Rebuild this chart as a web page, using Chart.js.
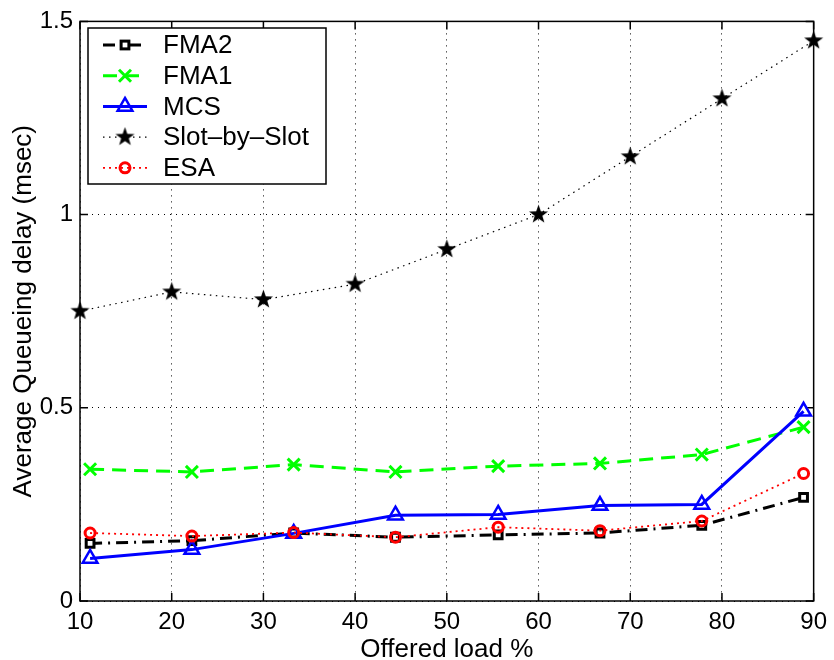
<!DOCTYPE html>
<html>
<head>
<meta charset="utf-8">
<script src="https://cdn.jsdelivr.net/npm/chart.js@4"></script>
<style>
  html, body { margin: 0; padding: 0; background: #fff; }
  #chart { display: block; }
</style>
</head>
<body>
<canvas id="chart" width="834" height="660"></canvas>
<script>
// values
const loadPoints = [11.1, 22.2, 33.3, 44.4, 55.6, 66.7, 77.8, 88.9];
const slotLoad = [10, 20, 30, 40, 50, 60, 70, 80, 90];

const fma2 = [0.149, 0.156, 0.176, 0.165, 0.171, 0.176, 0.196, 0.268];
const fma1 = [0.341, 0.334, 0.353, 0.334, 0.349, 0.356, 0.379, 0.450];
const mcs  = [0.110, 0.133, 0.175, 0.222, 0.224, 0.247, 0.250, 0.491];
const slotBySlot = [0.75, 0.80, 0.78, 0.82, 0.91, 1.00, 1.15, 1.30, 1.45];
const esa  = [0.176, 0.168, 0.177, 0.165, 0.191, 0.182, 0.207, 0.330];

const xTicks = [10, 20, 30, 40, 50, 60, 70, 80, 90];
const yTicks = [0, 0.5, 1, 1.5];

const FONT = '"Liberation Sans", Arial, Helvetica, sans-serif';

// filled five point star like matlab's 'p' marker
function makeStar(size, color) {
    let c = document.createElement('canvas');
    c.width = size; c.height = size;
    let g = c.getContext('2d');
    let cx = size / 2, cy = size / 2, R = size / 2 - 0.5, r = R * 0.4;
    g.beginPath();
    for (let i = 0; i < 10; i++) {
        let a = -Math.PI / 2 + i * Math.PI / 5;
        let rr = i % 2 ? r : R;
        g.lineTo(cx + rr * Math.cos(a), cy + rr * Math.sin(a));
    }
    g.closePath();
    g.fillStyle = color;
    g.fill();
    return c;
}
const starImg = makeStar(21, '#000');

function pts(xs, ys) {
    return xs.map((x, i) => ({ x: x, y: ys[i] }));
}

const datasets = [
    { label: 'FMA2', data: pts(loadPoints, fma2), borderColor: '#000', borderWidth: 3, borderDash: [12, 6, 2, 6],
      pointStyle: 'rect', pointRadius: 5.5, pointBorderWidth: 3, pointBorderColor: '#000', pointBackgroundColor: '#fff', order: 5 },
    { label: 'FMA1', data: pts(loadPoints, fma1), borderColor: '#00ff00', borderWidth: 3, borderDash: [14, 8],
      pointStyle: 'crossRot', pointRadius: 8.5, pointBorderWidth: 3, pointBorderColor: '#00ff00', pointBackgroundColor: 'transparent', order: 4 },
    { label: 'MCS', data: pts(loadPoints, mcs), borderColor: '#0000ff', borderWidth: 3, borderDash: [],
      pointStyle: 'triangle', pointRadius: 8.5, pointBorderWidth: 2.5, pointBorderColor: '#0000ff', pointBackgroundColor: 'transparent', order: 3 },
    { label: 'Slot–by–Slot', data: pts(slotLoad, slotBySlot), borderColor: '#000', borderWidth: 1.2, borderDash: [1.5, 4.5],
      pointStyle: starImg, pointRadius: 10, pointBorderWidth: 0, pointBorderColor: '#000', pointBackgroundColor: '#000', order: 2 },
    { label: 'ESA', data: pts(loadPoints, esa), borderColor: '#ff0000', borderWidth: 1.8, borderDash: [2, 4],
      pointStyle: 'circle', pointRadius: 5, pointBorderWidth: 3, pointBorderColor: '#ff0000', pointBackgroundColor: 'transparent', order: 1 }
];
datasets.forEach(d => { d.fill = false; d.tension = 0; d.clip = false; d.pointHoverRadius = d.pointRadius; });

// box round the axes with inward ticks, matlab style
const framePlugin = {
    id: 'frame',
    beforeDatasetsDraw(chart) {
        let ctx = chart.ctx, a = chart.chartArea;
        let xs = chart.scales.x, ys = chart.scales.y;
        ctx.save();
        ctx.strokeStyle = '#000';
        ctx.lineWidth = 1.5;
        ctx.setLineDash([]);
        ctx.strokeRect(a.left, a.top, a.right - a.left, a.bottom - a.top);
        ctx.beginPath();
        xTicks.forEach(v => {
            let px = xs.getPixelForValue(v);
            ctx.moveTo(px, a.bottom); ctx.lineTo(px, a.bottom - 8);
            ctx.moveTo(px, a.top); ctx.lineTo(px, a.top + 8);
        });
        yTicks.forEach(v => {
            let py = ys.getPixelForValue(v);
            ctx.moveTo(a.left, py); ctx.lineTo(a.left + 8, py);
            ctx.moveTo(a.right, py); ctx.lineTo(a.right - 8, py);
        });
        ctx.stroke();
        ctx.restore();
    }
};

function drawMarker(ctx, d, x, y) {
    ctx.save();
    ctx.setLineDash([]);
    ctx.lineWidth = d.pointBorderWidth;
    ctx.strokeStyle = d.pointBorderColor;
    ctx.fillStyle = d.pointBackgroundColor;
    let r = d.pointRadius;
    if (d.pointStyle instanceof HTMLCanvasElement) {
        ctx.drawImage(d.pointStyle, x - d.pointStyle.width / 2, y - d.pointStyle.height / 2);
    } else if (d.pointStyle === 'rect') {
        let s = r * Math.SQRT1_2;
        ctx.fillRect(x - s, y - s, 2 * s, 2 * s);
        ctx.strokeRect(x - s, y - s, 2 * s, 2 * s);
    } else if (d.pointStyle === 'crossRot') {
        let s = r * Math.SQRT1_2;
        ctx.beginPath();
        ctx.moveTo(x - s, y - s); ctx.lineTo(x + s, y + s);
        ctx.moveTo(x - s, y + s); ctx.lineTo(x + s, y - s);
        ctx.stroke();
    } else if (d.pointStyle === 'triangle') {
        ctx.beginPath();
        for (let i = 0; i < 3; i++) {
            let ang = i * 2 * Math.PI / 3;
            ctx.lineTo(x + Math.sin(ang) * r, y - Math.cos(ang) * r);
        }
        ctx.closePath();
        ctx.stroke();
    } else {
        ctx.beginPath();
        ctx.arc(x, y, r, 0, 2 * Math.PI);
        ctx.stroke();
    }
    ctx.restore();
}

// legend box in the top left corner of the axes
const legendPlugin = {
    id: 'boxLegend',
    afterDraw(chart) {
        let ctx = chart.ctx;
        let bx = 88, by = 28, bw = 238, bh = 156;
        ctx.save();
        ctx.fillStyle = '#fff';
        ctx.fillRect(bx, by, bw, bh);
        ctx.strokeStyle = '#000';
        ctx.lineWidth = 1.5;
        ctx.strokeRect(bx, by, bw, bh);
        datasets.forEach((d, i) => {
            let y = 45 + i * 30.7;
            ctx.save();
            ctx.strokeStyle = d.borderColor;
            ctx.lineWidth = d.borderWidth;
            ctx.setLineDash(d.borderDash);
            ctx.beginPath();
            ctx.moveTo(103, y); ctx.lineTo(147, y);
            ctx.stroke();
            ctx.restore();
            drawMarker(ctx, d, 125, y);
            ctx.fillStyle = '#000';
            ctx.font = '26px ' + FONT;
            ctx.textBaseline = 'middle';
            ctx.textAlign = 'left';
            ctx.fillText(d.label, 163, y + 1);
        });
        ctx.restore();
    }
};

new Chart(document.getElementById('chart'), {
    type: 'line',
    data: { datasets: datasets },
    options: {
        responsive: false,
        animation: false,
        devicePixelRatio: 1,
        layout: { padding: { top: 20, right: 16, left: 0, bottom: 0 } },
        plugins: { legend: { display: false }, tooltip: { enabled: false } },
        scales: {
            x: {
                type: 'linear', min: 10, max: 90,
                afterBuildTicks: s => { s.ticks = xTicks.map(v => ({ value: v })); },
                afterFit: s => { s.height = 59; },
                ticks: { color: '#000', font: { family: FONT, size: 24 }, padding: 7, maxRotation: 0 },
                grid: { color: '#000', lineWidth: 1, drawTicks: false },
                border: { display: false, dash: [1, 5] },
                title: { display: true, text: 'Offered load %', color: '#000',
                         font: { family: FONT, size: 26, lineHeight: 0.8 }, padding: { top: 0, bottom: 0 } }
            },
            y: {
                type: 'linear', min: 0, max: 1.5,
                afterBuildTicks: s => { s.ticks = yTicks.map(v => ({ value: v })); },
                afterFit: s => { s.width = 80; },
                ticks: { color: '#000', font: { family: FONT, size: 24 }, padding: 7, callback: v => String(v) },
                grid: { color: '#000', lineWidth: 1, drawTicks: false },
                border: { display: false, dash: [1, 5] },
                title: { display: true, text: 'Average Queueing delay (msec)', color: '#000',
                         font: { family: FONT, size: 26, lineHeight: 1 }, padding: { top: 11, bottom: 0 } }
            }
        }
    },
    plugins: [framePlugin, legendPlugin]
});
</script>
</body>
</html>
